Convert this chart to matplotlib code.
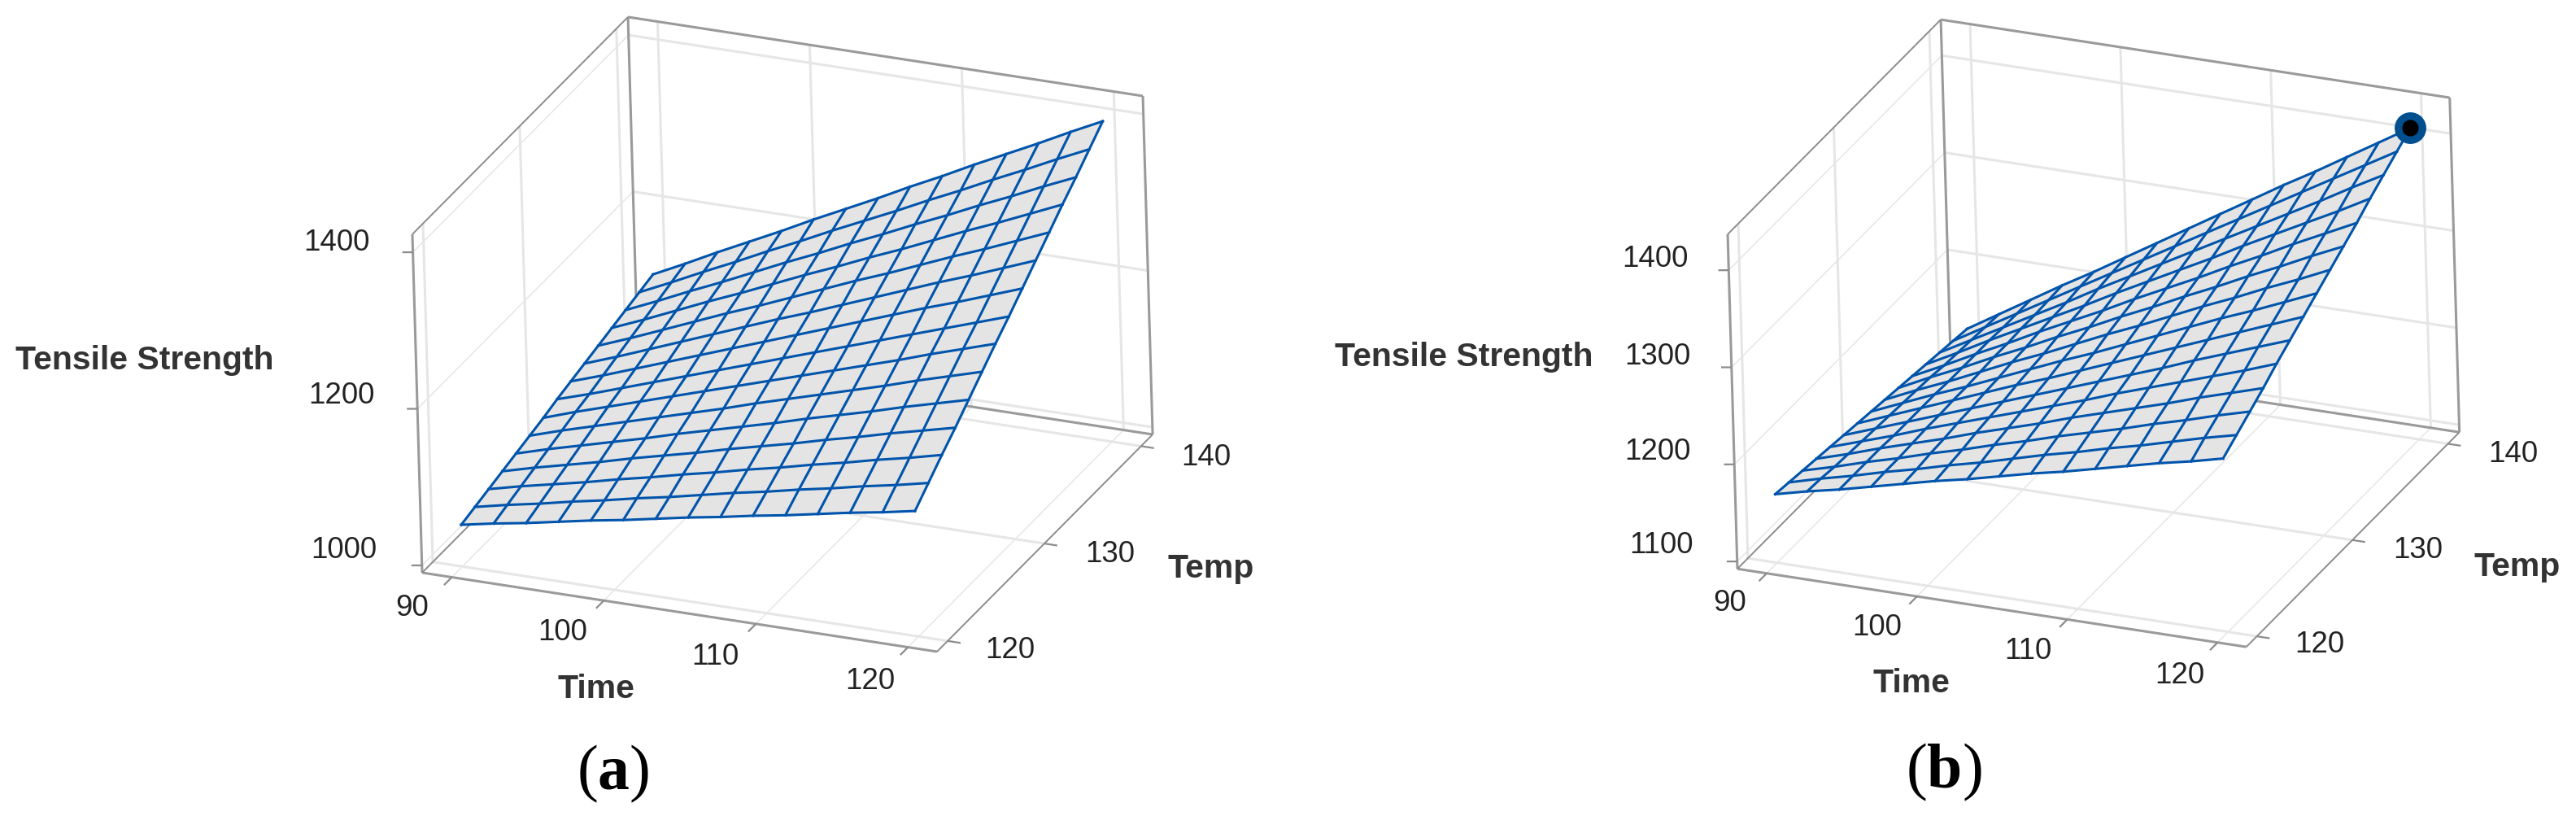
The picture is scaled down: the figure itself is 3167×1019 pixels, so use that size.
import numpy as np
import matplotlib
matplotlib.use('Agg')
import matplotlib.pyplot as plt

W, H = 3167, 1020

# Axis values
time_grid = [90, 92.14, 94.29, 96.43, 98.57, 100.71, 102.86, 105, 107.14, 109.29, 111.43, 113.57, 115.71, 117.86, 120]
temp_grid = [120, 121.43, 122.86, 124.29, 125.71, 127.14, 128.57, 130, 131.43, 132.86, 134.29, 135.71, 137.14, 138.57, 140]
time_ticks = [90, 100, 110, 120]
temp_ticks = [120, 130, 140]
z_ticks_a = [1000, 1200, 1400]
z_ticks_b = [1100, 1200, 1300, 1400]
time_lim = (88.05, 121.91)
temp_lim = (118.9, 141.2)
z_lim_a = (990.7, 1423)
z_lim_b = (1092.4, 1437)

# Tensile strength, one row per temp
strength_a = [
    [1044, 1052, 1059, 1067, 1075, 1082, 1090, 1098, 1105, 1113, 1120, 1128, 1136, 1143, 1151],
    [1049, 1058, 1066, 1075, 1083, 1092, 1100, 1109, 1118, 1126, 1135, 1143, 1152, 1160, 1169],
    [1054, 1064, 1073, 1082, 1092, 1101, 1111, 1120, 1130, 1139, 1149, 1158, 1168, 1177, 1187],
    [1059, 1070, 1080, 1090, 1101, 1111, 1121, 1132, 1142, 1152, 1163, 1173, 1184, 1194, 1204],
    [1064, 1076, 1087, 1098, 1109, 1121, 1132, 1143, 1154, 1166, 1177, 1188, 1200, 1211, 1222],
    [1069, 1082, 1094, 1106, 1118, 1130, 1142, 1155, 1167, 1179, 1191, 1203, 1216, 1228, 1240],
    [1074, 1088, 1101, 1114, 1127, 1140, 1153, 1166, 1179, 1192, 1205, 1218, 1232, 1245, 1258],
    [1080, 1093, 1107, 1121, 1135, 1149, 1163, 1177, 1191, 1205, 1219, 1233, 1247, 1261, 1275],
    [1085, 1099, 1114, 1129, 1144, 1159, 1174, 1189, 1204, 1219, 1234, 1249, 1263, 1278, 1293],
    [1090, 1105, 1121, 1137, 1153, 1169, 1185, 1200, 1216, 1232, 1248, 1264, 1279, 1295, 1311],
    [1095, 1111, 1128, 1145, 1162, 1178, 1195, 1212, 1229, 1245, 1262, 1279, 1295, 1312, 1329],
    [1100, 1117, 1135, 1153, 1170, 1188, 1206, 1223, 1241, 1258, 1276, 1294, 1311, 1329, 1347],
    [1105, 1123, 1142, 1160, 1179, 1198, 1216, 1235, 1253, 1272, 1290, 1309, 1327, 1346, 1364],
    [1110, 1129, 1149, 1168, 1188, 1207, 1227, 1246, 1265, 1285, 1304, 1324, 1343, 1363, 1382],
    [1115, 1135, 1156, 1176, 1196, 1217, 1237, 1257, 1278, 1298, 1319, 1339, 1359, 1380, 1400],
]

# Tensile strength
strength_b = [
    [1163, 1171, 1178, 1186, 1194, 1202, 1209, 1217, 1225, 1232, 1240, 1248, 1256, 1263, 1271],
    [1161, 1170, 1178, 1187, 1195, 1204, 1212, 1221, 1230, 1238, 1247, 1255, 1264, 1273, 1281],
    [1159, 1168, 1178, 1187, 1197, 1206, 1216, 1225, 1235, 1244, 1253, 1263, 1272, 1282, 1291],
    [1157, 1167, 1178, 1188, 1198, 1209, 1219, 1229, 1240, 1250, 1260, 1270, 1281, 1291, 1301],
    [1155, 1166, 1177, 1189, 1200, 1211, 1222, 1233, 1244, 1256, 1267, 1278, 1289, 1300, 1312],
    [1153, 1165, 1177, 1189, 1201, 1213, 1225, 1237, 1249, 1261, 1273, 1286, 1298, 1310, 1322],
    [1151, 1164, 1177, 1190, 1203, 1216, 1228, 1241, 1254, 1267, 1280, 1293, 1306, 1319, 1332],
    [1149, 1163, 1177, 1190, 1204, 1218, 1232, 1245, 1259, 1273, 1287, 1301, 1314, 1328, 1342],
    [1147, 1162, 1176, 1191, 1206, 1220, 1235, 1250, 1264, 1279, 1294, 1308, 1323, 1337, 1352],
    [1145, 1161, 1176, 1192, 1207, 1223, 1238, 1254, 1269, 1285, 1300, 1316, 1331, 1347, 1362],
    [1143, 1159, 1176, 1192, 1209, 1225, 1241, 1258, 1274, 1290, 1307, 1323, 1340, 1356, 1372],
    [1141, 1158, 1176, 1193, 1210, 1227, 1245, 1262, 1279, 1296, 1314, 1331, 1348, 1365, 1383],
    [1139, 1157, 1175, 1193, 1211, 1230, 1248, 1266, 1284, 1302, 1320, 1338, 1356, 1375, 1393],
    [1137, 1156, 1175, 1194, 1213, 1232, 1251, 1270, 1289, 1308, 1327, 1346, 1365, 1384, 1403],
    [1135, 1155, 1175, 1195, 1214, 1234, 1254, 1274, 1294, 1314, 1334, 1353, 1373, 1393, 1413],
]

plt.rcParams['font.family'] = ['Liberation Sans', 'DejaVu Sans']
plt.rcParams['mathtext.fontset'] = 'custom'
plt.rcParams['mathtext.rm'] = 'Liberation Serif'
plt.rcParams['mathtext.bf'] = 'Liberation Serif:bold'

DARK = '#9a9a9a'
THIN = '#8c8c8c'
LIGHT = '#e6e6e6'
MESH = '#0054ab'
FILL = '#e4e4e4'


def line(ax, p, q, color, lw, zorder=1):
    ax.plot([p[0], q[0]], [p[1], q[1]], [p[2], q[2]], color=color, lw=lw, zorder=zorder,
            solid_capstyle='butt')


def draw_panel(rect, z_grid, z_lim, z_ticks):
    ax = fig.add_axes([rect[0] / W, rect[1] / H, rect[2] / W, rect[2] / H], projection='3d')
    ax.set_proj_type('ortho')
    ax.set_box_aspect((688, 678.5, 458))
    ax.view_init(elev=24.66, azim=-66.3, roll=1.66)
    ax.set_axis_off()
    ax.patch.set_visible(False)
    ax.computed_zorder = False
    ax.set_xlim(*time_lim, view_margin=0)
    ax.set_ylim(*temp_lim, view_margin=0)
    ax.set_zlim(*z_lim, view_margin=0)

    x0, x1 = time_lim
    y0, y1 = temp_lim
    z0, z1 = z_lim

    # light grid on floor and the two back walls
    for t in time_ticks:
        line(ax, (t, y0, z0), (t, y1, z0), LIGHT, 1.1)
        line(ax, (t, y1, z0), (t, y1, z1), LIGHT, 2.2)
    for t in temp_ticks:
        line(ax, (x0, t, z0), (x1, t, z0), LIGHT, 2.2)
        line(ax, (x0, t, z0), (x0, t, z1), LIGHT, 2.2)
    for z in z_ticks:
        line(ax, (x0, y1, z), (x1, y1, z), LIGHT, 2.2)
        line(ax, (x0, y0, z), (x0, y1, z), LIGHT, 1.1)

    # box outline
    line(ax, (x0, y0, z0), (x1, y0, z0), DARK, 2.2, 2)
    line(ax, (x0, y1, z0), (x1, y1, z0), DARK, 2.2, 2)
    line(ax, (x0, y1, z1), (x1, y1, z1), DARK, 2.2, 2)
    line(ax, (x0, y0, z0), (x0, y0, z1), DARK, 2.2, 2)
    line(ax, (x0, y1, z0), (x0, y1, z1), DARK, 2.2, 2)
    line(ax, (x1, y1, z0), (x1, y1, z1), DARK, 2.2, 2)
    line(ax, (x0, y0, z0), (x0, y1, z0), THIN, 1.4, 2)
    line(ax, (x1, y0, z0), (x1, y1, z0), THIN, 1.4, 2)
    line(ax, (x0, y0, z1), (x0, y1, z1), THIN, 1.4, 2)

    # tick marks
    for t in time_ticks:
        line(ax, (t, y0, z0), (t, y0 - 0.8, z0), THIN, 1.6, 2)
    for t in temp_ticks:
        line(ax, (x1, t, z0), (x1 + 0.85, t, z0), THIN, 1.6, 2)
    for z in z_ticks:
        line(ax, (x0, y0, z), (x0 - 0.6, y0 - 0.145, z), THIN, 1.6, 2)

    # surface with its mesh on top
    tt, pp = np.meshgrid(time_grid, temp_grid)
    zz = np.array(z_grid, dtype=float)
    ax.plot_surface(tt, pp, zz, color=FILL, shade=False, linewidth=0, antialiased=False,
                    rstride=1, cstride=1, zorder=3)
    for i in range(len(temp_grid)):
        ax.plot(tt[i], pp[i], zz[i], color=MESH, lw=2.2, zorder=4)
    for j in range(len(time_grid)):
        ax.plot(tt[:, j], pp[:, j], zz[:, j], color=MESH, lw=2.2, zorder=4)
    return ax


def label(x, y, s, **kw):
    kw.setdefault('fontsize', 26.5)
    kw.setdefault('color', '#222222')
    fig.text(x / W, 1 - y / H, s, ha='center', va='center', **kw)


fig = plt.figure(figsize=(W / 100, H / 100), dpi=100)

draw_panel((429, 75, 1038), strength_a, z_lim_a, z_ticks_a)
ax_b = draw_panel((2047, 82.5, 1026), strength_b, z_lim_b, z_ticks_b)

# optimum point on panel (b)
ax_b.plot([time_grid[-1]], [temp_grid[-1]], [strength_b[-1][-1]], 'o', ms=28, color='#004f8f', mew=0, zorder=5)
ax_b.plot([time_grid[-1]], [temp_grid[-1]], [strength_b[-1][-1]], 'o', ms=14.5, color='black', mew=0, zorder=6)

BOLD = dict(fontweight='bold', color='#333333', fontsize=29.5)

# panel (a) text
for (x, y), s in zip([(423, 677), (420, 487), (414, 299)], ['1000', '1200', '1400']):
    label(x, y, s)
for (x, y), s in zip([(507, 748), (692, 778), (879, 808), (1070, 838)], ['90', '100', '110', '120']):
    label(x, y, s)
for (x, y), s in zip([(1242, 800), (1365, 682), (1483, 563)], ['120', '130', '140']):
    label(x, y, s)
label(178, 443, 'Tensile Strength', **BOLD)
label(733, 847, 'Time', **BOLD)
label(1489, 699, 'Temp', **BOLD)
label(754, 951, r'($\mathbf{a}$)', fontsize=56, color='black', family='Liberation Serif')

# panel (b) text
for (x, y), s in zip([(2043, 671), (2038, 556), (2038, 439), (2035, 318)], ['1100', '1200', '1300', '1400']):
    label(x, y, s)
for (x, y), s in zip([(2127, 742), (2308, 772), (2493, 801), (2680, 831)], ['90', '100', '110', '120']):
    label(x, y, s)
for (x, y), s in zip([(2852, 793), (2973, 677), (3090, 559)], ['120', '130', '140']):
    label(x, y, s)
label(1800, 439, 'Tensile Strength', **BOLD)
label(2350, 840, 'Time', **BOLD)
label(3095, 697, 'Temp', **BOLD)
label(2390, 949, r'($\mathbf{b}$)', fontsize=56, color='black', family='Liberation Serif')

fig.savefig('out.png', dpi=100)
